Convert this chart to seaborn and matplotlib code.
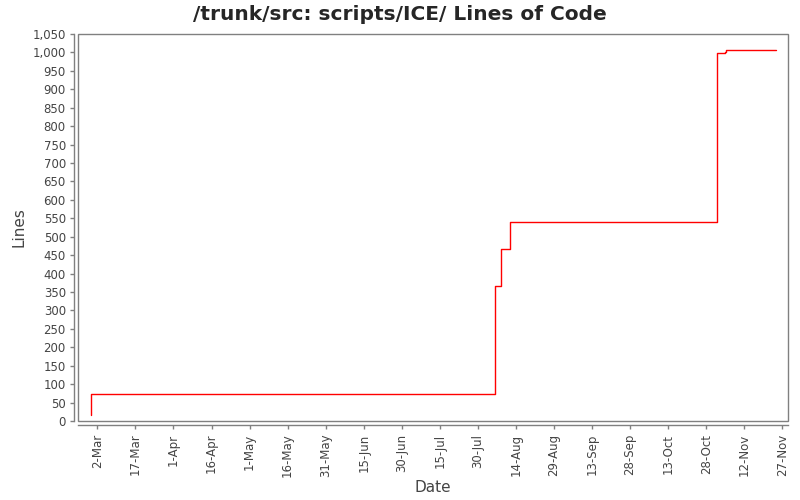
# Lines of code over time for /trunk/src: scripts/ICE/

import pandas as pd
import matplotlib
matplotlib.use("Agg")
import matplotlib.pyplot as plt
import matplotlib.dates as mdates
from matplotlib.patches import Rectangle
import seaborn as sns

# ------------------------------------------
# Data
# ------------------------------------------
dates = ["2007-02-27 15:00", "2007-02-27 16:00", "2007-08-05 17:00", "2007-08-08 02:00",
         "2007-08-11 14:00", "2007-11-01 02:00", "2007-11-04 07:00", "2007-11-04 22:00",
         "2007-11-24 10:00"]
lines = [17, 73, 367, 467, 540, 998, 1002, 1006, 1006]

tick_dates = pd.date_range("2007-03-02", "2007-11-27", freq="15D")
y_ticks = list(range(0, 1051, 50))

df = pd.DataFrame({"Date": pd.to_datetime(dates, format="%Y-%m-%d %H:%M"), "Lines": lines})

# ------------------------------------------
# Plot
# ------------------------------------------
sns.set_style("white")
plt.rcParams["font.family"] = ["DejaVu Sans"]

fig = plt.figure(figsize=(8, 5), dpi=100)
ax = fig.add_axes([0.0979, 0.158, 0.8871, 0.774])

sns.lineplot(data=df, x="Date", y="Lines", ax=ax, color="#FF0000",
             linewidth=1.0, drawstyle="steps-post", estimator=None, sort=False)

ax.set_xlim(pd.Timestamp("2007-02-22 12:00"), pd.Timestamp("2007-11-29 06:00"))
ax.set_ylim(0, 1050)

ax.set_xticks(tick_dates)
ax.xaxis.set_major_formatter(mdates.DateFormatter("%-d-%b"))
ax.set_yticks(y_ticks)
ax.set_yticklabels([f"{v:,}" for v in y_ticks])

ax.tick_params(axis="x", rotation=90, labelsize=8.5, labelcolor="#444444",
               color="#808080", length=3, width=1, direction="out", bottom=True, pad=3)
ax.tick_params(axis="y", labelsize=8.5, labelcolor="#444444",
               color="#808080", length=3, width=1, direction="out", left=True, pad=3)

# axis lines sit a little outside the plot box, like the original
for side in ["top", "right"]:
    ax.spines[side].set_visible(False)
for side in ["left", "bottom"]:
    ax.spines[side].set_position(("outward", 3))
    ax.spines[side].set_color("#808080")
    ax.spines[side].set_linewidth(1)
ax.add_patch(Rectangle((0, 0), 1, 1, transform=ax.transAxes, fill=False,
                       edgecolor="#808080", linewidth=1, clip_on=False))

ax.set_xlabel("Date", fontsize=11, color="#444444", labelpad=2)
ax.set_ylabel("Lines", fontsize=11, color="#444444")

# title is centred on the whole figure, not on the axes
fig.text(0.5, 0.972, "/trunk/src: scripts/ICE/ Lines of Code", fontsize=14.5,
         fontweight="bold", ha="center", va="center")

plt.savefig("out.png", dpi=100)
